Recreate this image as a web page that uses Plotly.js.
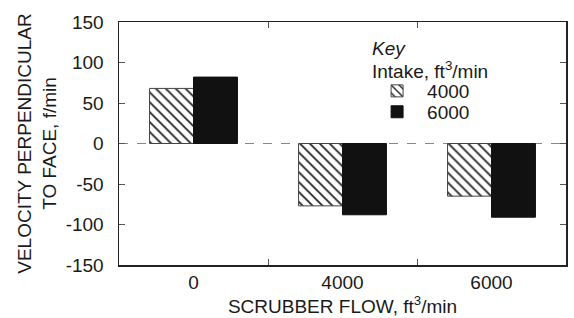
<!DOCTYPE html>
<html><head><meta charset="utf-8">
<script src="https://cdn.plot.ly/plotly-3.0.1.min.js"></script>
<style>html,body{margin:0;padding:0;background:#fff}</style>
</head><body><div id="c" style="width:574px;height:318px"></div>
<script>
const categories = ["0", "4000", "6000"];
const intake4000 = [68, -77, -65];
const intake6000 = [82, -88, -91];
const seriesNames = ["4000", "6000"];
const yTicks = [-150, -100, -50, 0, 50, 100, 150];
const yTickText = ["-150", "-100", "-50", "0", "50", "100", "150"];

const fam = "Liberation Sans, Arial, sans-serif";
const col = "#1a1a1a";
const data = [
  {type: "bar", x: categories, y: intake4000, name: seriesNames[0], legend: "legend",
   marker: {color: "#ffffff", line: {color: "#444", width: 1},
            pattern: {shape: "\\", fgcolor: "#222", bgcolor: "#fff", size: 7, solidity: 0.25}}},
  {type: "bar", x: categories, y: intake6000, name: seriesNames[1], legend: "legend2",
   marker: {color: "#111111", line: {color: "#111", width: 1}}}
];
const legBase = {x: 0.555, xanchor: "left", yanchor: "middle", bgcolor: "rgba(0,0,0,0)",
  font: {size: 19, family: fam, color: col}, itemwidth: 50};
const layout = {
  width: 574, height: 318,
  margin: {l: 119, r: 8, t: 22, b: 53},
  paper_bgcolor: "#fff", plot_bgcolor: "#fff",
  font: {family: fam, size: 19, color: col},
  barmode: "group", bargap: 0.41, bargroupgap: 0,
  showlegend: true,
  legend: Object.assign({}, legBase, {y: 0.716}),
  legend2: Object.assign({}, legBase, {y: 0.630}),
  annotations: [
    {text: "<i>Key</i>", xref: "paper", yref: "paper", x: 0.5615, y: 0.893, xanchor: "left", yanchor: "middle", showarrow: false, font: {size: 19}},
    {text: "Intake, ft<sup>3</sup>/min", xref: "paper", yref: "paper", x: 0.5615, y: 0.802, xanchor: "left", yanchor: "middle", showarrow: false, font: {size: 19}}
  ],
  xaxis: {type: "category", range: [-0.5, 2.5], showline: true, linecolor: "#222", linewidth: 1.5,
    mirror: "ticks", ticks: "inside", tickson: "boundaries", ticklen: 6, tickcolor: "#555",
    showgrid: false, zeroline: false, tickfont: {size: 19},
    title: {text: "SCRUBBER FLOW, ft<sup>3</sup>/min", font: {size: 19}, standoff: 0}},
  yaxis: {range: [-150, 150], tickvals: yTicks, ticktext: yTickText, showline: true, linecolor: "#222", linewidth: 1.5,
    mirror: "ticks", ticks: "inside", ticklen: 6, tickcolor: "#555", ticklabelstandoff: 10,
    showgrid: false, zeroline: false, tickfont: {size: 19},
    title: {text: "VELOCITY PERPENDICULAR<br>TO FACE, f/min", font: {size: 19}, standoff: 4}},
  shapes: [{type: "line", xref: "paper", x0: 0, x1: 1, yref: "y", y0: 0, y1: 0,
    line: {color: "#888", width: 1.2, dash: "dash"}, layer: "below"}]
};
Plotly.newPlot("c", data, layout, {staticPlot: true});
</script></body></html>
